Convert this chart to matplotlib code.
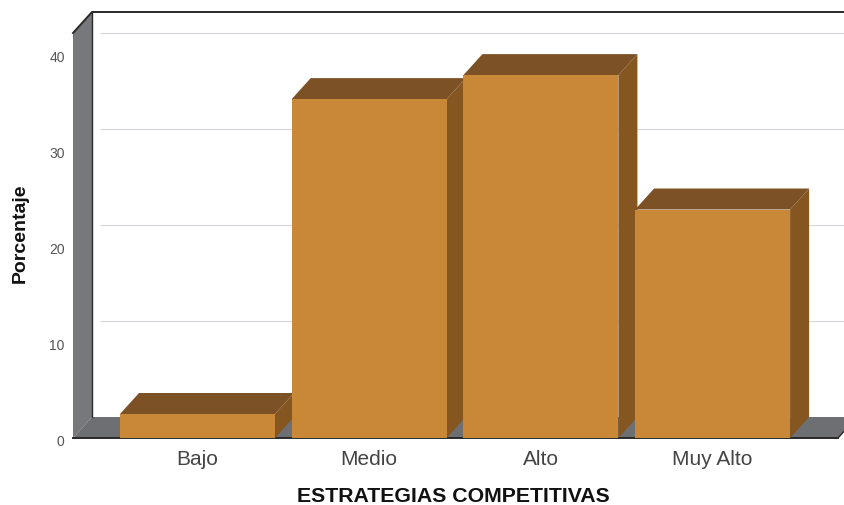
import matplotlib
matplotlib.use("Agg")
import matplotlib.pyplot as plt
from matplotlib.patches import Polygon
from matplotlib.transforms import ScaledTranslation

categories = ["Bajo", "Medio", "Alto", "Muy Alto"]
values = [2.5, 35.3, 37.8, 23.8]
y_ticks = [0, 10, 20, 30, 40]

FRONT = "#c98738"
TOP = "#7d5126"
SIDE = "#85561f"
WALL = "#77787b"
FLOOR = "#6e6f73"
GRID = "#d3d6da"
EDGE = "#2a2a2a"

W, H = 845, 506
# pixel layout of the front plane
LEFT, RIGHT, TOP_PX, BOTTOM = 73, 845, 13, 439
X0, X_STEP = 197.5, 171.7
Y_STEP = 9.6
DX = 19 / X_STEP
DY = 21 / Y_STEP
BAR_W = 155 / X_STEP


def main():
    plt.rcParams['font.family'] = ['Liberation Sans', 'DejaVu Sans']
    fig = plt.figure(figsize=(W / 100, H / 100), dpi=100)
    ax = fig.add_axes([LEFT / W, 1 - BOTTOM / H, (RIGHT - LEFT) / W, (BOTTOM - TOP_PX) / H])

    x_min = (LEFT - X0) / X_STEP
    x_max = (RIGHT - X0) / X_STEP
    y_max = (BOTTOM - TOP_PX) / Y_STEP
    x_floor = (838 - X0) / X_STEP
    ax.set_xlim(x_min, x_max)
    ax.set_ylim(0, y_max)

    # walls
    ax.add_patch(Polygon([(x_min, 0), (x_min + DX, DY), (x_min + DX, y_max), (x_min, y_max - DY)],
                         closed=True, fc=WALL, ec="none", zorder=1))
    ax.add_patch(Polygon([(x_min, 0), (x_min + DX, DY), (x_max + DX, DY), (x_floor + DX, DY), (x_floor, 0)],
                         closed=True, fc=FLOOR, ec="none", zorder=1))

    for t in y_ticks[1:]:
        ax.plot([x_min + DX + 0.05, x_max], [t + DY, t + DY], color=GRID, lw=0.8, zorder=1.5)

    # frame lines
    ax.plot([x_min, x_min + DX, x_max], [y_max - DY, y_max, y_max], color=EDGE, lw=1.4, zorder=2, clip_on=False)
    ax.plot([x_min + DX, x_min + DX], [DY, y_max], color=EDGE, lw=1.0, zorder=2)
    ax.plot([x_min, x_floor], [0, 0], color=EDGE, lw=1.4, zorder=2, clip_on=False)
    ax.plot([x_floor, x_floor + DX * 0.35], [0, DY * 0.35], color=EDGE, lw=1.0, zorder=2)

    # bars, left to right so the later ones cover the earlier side faces
    for i, v in enumerate(values):
        x1 = i - BAR_W / 2
        x2 = i + BAR_W / 2
        z = 3 + i
        ax.add_patch(Polygon([(x1, v), (x1 + DX, v + DY), (x2 + DX, v + DY), (x2, v)],
                             closed=True, fc=TOP, ec="none", zorder=z))
        ax.add_patch(Polygon([(x2, 0), (x2 + DX, DY), (x2 + DX, v + DY), (x2, v)],
                             closed=True, fc=SIDE, ec="none", zorder=z))
        ax.bar(i, v, width=BAR_W, color=FRONT, zorder=z + 0.5)

    for s in ax.spines.values():
        s.set_visible(False)
    ax.patch.set_alpha(0)

    ax.set_xticks(range(len(categories)))
    ax.set_xticklabels(categories, fontsize=15, color="#444444")
    ax.set_yticks(y_ticks)
    ax.tick_params(axis='x', length=0, pad=8)
    ax.tick_params(axis='y', length=0, pad=6, labelsize=10, labelcolor="#555555")
    shift = ScaledTranslation(0, -2 / 100, fig.dpi_scale_trans)
    for lab in ax.get_yticklabels():
        lab.set_transform(lab.get_transform() + shift)

    fig.text(453.5 / W, 1 - 497 / H, "ESTRATEGIAS COMPETITIVAS", fontsize=15.3, fontweight='bold',
             ha='center', va='center', color="#111111")
    fig.text(20.5 / W, 1 - 233 / H, "Porcentaje", fontsize=14, fontweight='bold',
             rotation=90, ha='center', va='center', color="#111111")

    fig.savefig("out.png", dpi=100)


if __name__ == '__main__':
    main()
